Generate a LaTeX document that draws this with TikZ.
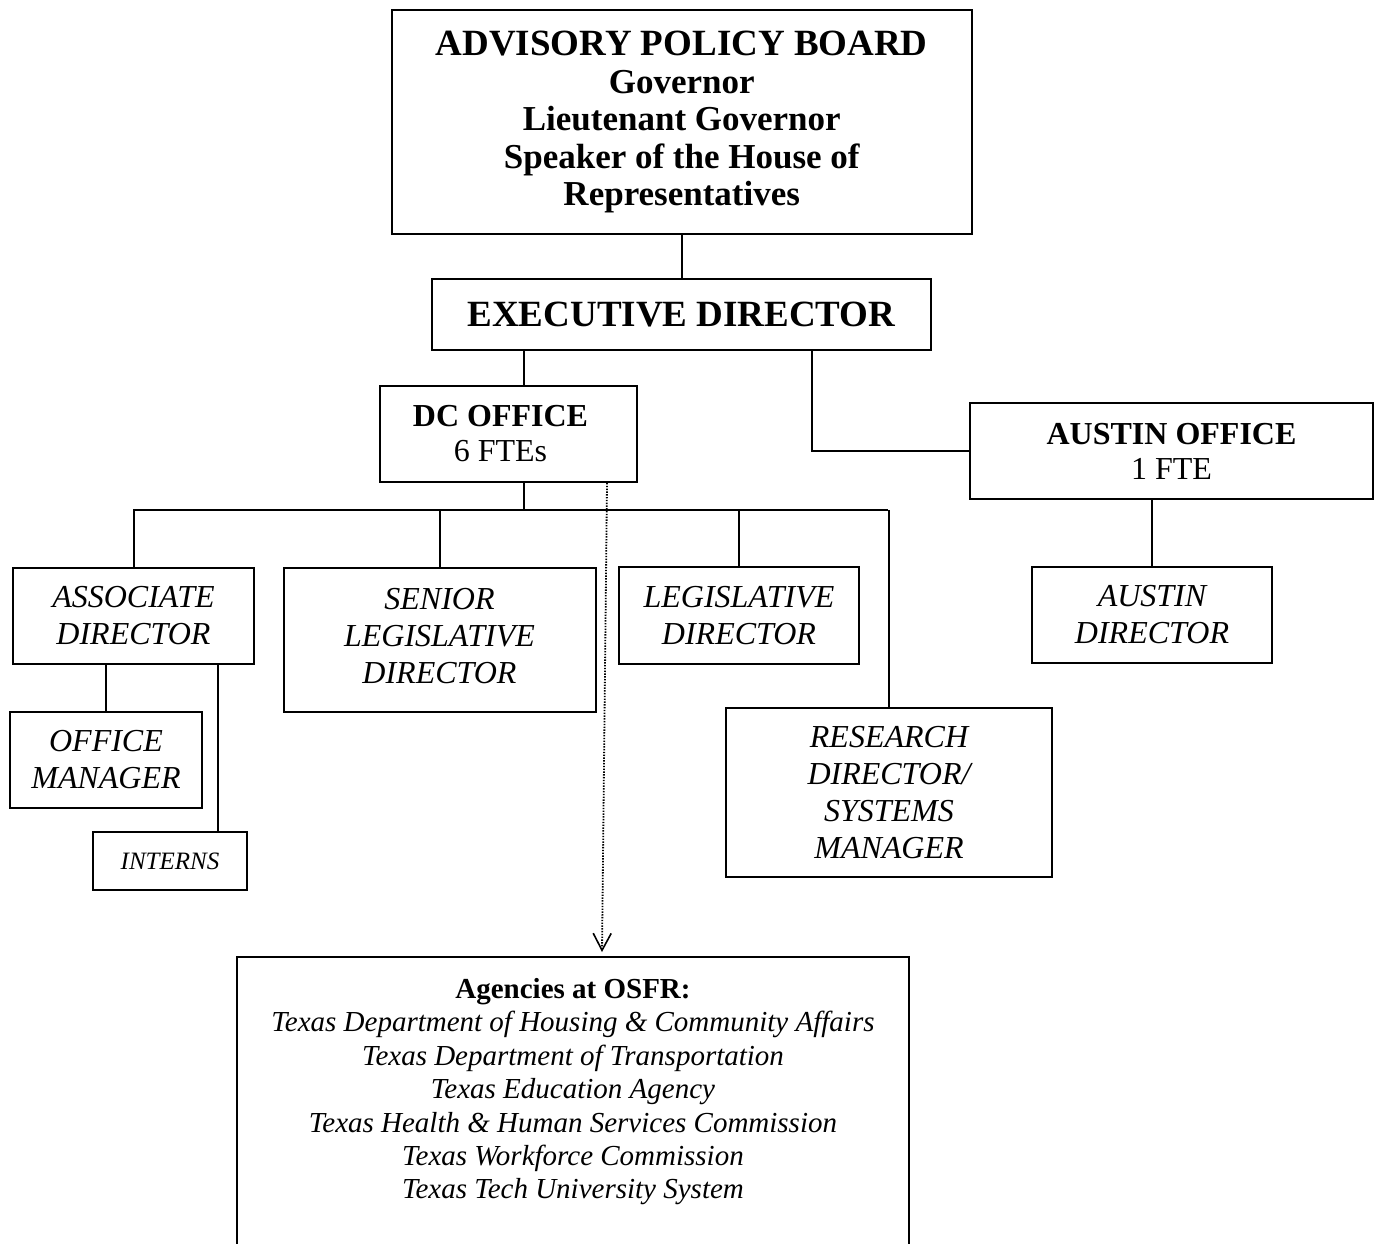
\documentclass[tikz,border=0pt]{standalone}
\usepackage{fontspec}
\setmainfont{Liberation Serif}
\usepackage{tikz}
\usetikzlibrary{arrows.meta}

\begin{document}
\begin{tikzpicture}[x=0.5pt, y=-0.5pt,
        orgbox/.style={draw, line width=1pt, inner sep=0pt, align=center},
        rolefont/.style={font=\itshape\fontsize{16}{18.5}\selectfont},
        officefont/.style={font=\fontsize{16}{17.5}\selectfont},
        link/.style={line width=1pt}]
    \useasboundingbox (0,0) rectangle (1376,1243);

    \node[orgbox, minimum width=290.25pt, minimum height=112pt,
          font=\bfseries\fontsize{17.5}{18.75}\selectfont] (board) at (681.75,122)
        {{\fontsize{18.5}{18.75}\selectfont ADVISORY POLICY BOARD}\\Governor\\Lieutenant Governor\\
         Speaker of the House of\\Representatives};
    \node[orgbox, minimum width=249.5pt, minimum height=35.5pt,
          font=\bfseries\fontsize{18.5}{20}\selectfont] (exec) at (681.5,314.5) {EXECUTIVE DIRECTOR};

    \node[orgbox, officefont, minimum width=128.5pt, minimum height=48pt] (dc) at (508.5,434)
        {\textbf{DC OFFICE}\hspace*{8pt}\\6 FTEs\hspace*{8pt}};
    \node[orgbox, officefont, minimum width=201.5pt, minimum height=48pt] (austin) at (1171.5,451)
        {\textbf{AUSTIN OFFICE}\\1 FTE};

    \node[orgbox, rolefont, minimum width=120.5pt, minimum height=48pt] (assoc) at (133.5,616)
        {ASSOCIATE\\DIRECTOR};
    \node[orgbox, rolefont, minimum width=156pt, minimum height=72pt] (senior) at (439.5,640)
        {SENIOR\\LEGISLATIVE\\DIRECTOR\\[-14.5pt]\mbox{}};
    \node[orgbox, rolefont, minimum width=120pt, minimum height=48.5pt] (legis) at (739,615.5)
        {LEGISLATIVE\\DIRECTOR};
    \node[orgbox, rolefont, minimum width=163pt, minimum height=84.5pt] (research) at (889,792.5)
        {RESEARCH\\DIRECTOR/\\SYSTEMS\\MANAGER};
    \node[orgbox, rolefont, minimum width=120pt, minimum height=48pt] (austindir) at (1152,615)
        {AUSTIN\\DIRECTOR};
    \node[orgbox, rolefont, minimum width=96pt, minimum height=48pt] (officemgr) at (106,760)
        {OFFICE\\MANAGER};
    \node[orgbox, font=\itshape\fontsize{12.5}{14}\selectfont, minimum width=77pt, minimum height=29pt]
        (interns) at (170,861) {INTERNS};

    \node[anchor=north, align=center, inner xsep=0pt, inner ysep=10.5pt, minimum width=336pt,
          font=\itshape\fontsize{14.5}{16.7}\selectfont] (agencies) at (573,957)
        {\textbf{\upshape Agencies at OSFR:}\\
         Texas Department of Housing \& Community Affairs\\
         Texas Department of Transportation\\
         Texas Education Agency\\
         Texas Health \& Human Services Commission\\
         Texas Workforce Commission\\
         Texas Tech University System};
    \draw[link] (agencies.north west) ++(0,320) -- (agencies.north west)
        -- (agencies.north east) -- ++(0,320);

    \coordinate (busleft) at (133,510);
    \coordinate (busright) at (888,510);

    \draw[link] (board.south) -- (board.south |- exec.north);
    \draw[link] ([xshift=7.5pt]dc.north) -- ([xshift=7.5pt]dc.north |- exec.south);
    \draw[link] ([xshift=65pt]exec.south) |- (austin.west);
    \draw[link] (austindir.north) -- (austindir.north |- austin.south);

    \draw[link] ([xshift=7.5pt]dc.south) -- ([xshift=7.5pt]dc.south |- busleft);
    \draw[link] (busleft) -- (busright);
    \draw[link] (assoc.north) -- (assoc.north |- busleft);
    \draw[link] (senior.north) -- (senior.north |- busleft);
    \draw[link] (legis.north) -- (legis.north |- busleft);
    \draw[link] (research.north) -- (research.north |- busright);

    \draw[link] (officemgr.north) -- (officemgr.north |- assoc.south);
    \draw[link] ([xshift=24pt]interns.north) -- ([xshift=24pt]interns.north |- assoc.south);

    \draw[line width=0.9pt, dash pattern=on 0.7pt off 0.7pt,
          -{Straight Barb[length=8.5pt, width=9pt, line width=0.8pt]}]
        ([xshift=-15.5pt]dc.south east) -- ([xshift=14.5pt, yshift=2.5pt]agencies.north);
\end{tikzpicture}
\end{document}
